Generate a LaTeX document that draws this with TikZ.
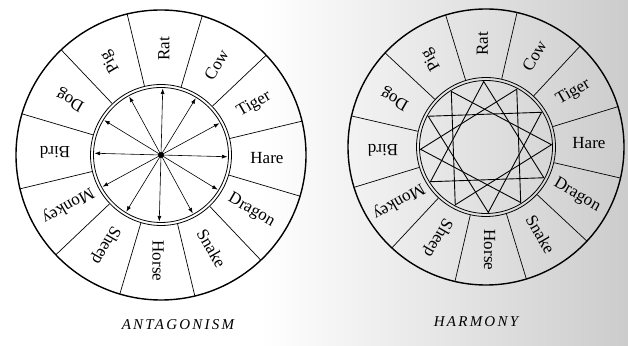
\documentclass[tikz,border=0pt]{standalone}
\usepackage{fontspec}
\setmainfont{Liberation Serif}
\usetikzlibrary{arrows.meta}

\begin{document}
\begin{tikzpicture}[x=1pt, y=1pt,
    rim/.style={line width=1.4pt},
    ring/.style={line width=0.8pt},
    spoke/.style={line width=0.7pt},
    arr/.style={{Latex[length=5.5pt,width=4pt]}-{Latex[length=5.5pt,width=4pt]}, line width=0.6pt},
    star/.style={line width=0.9pt, line join=miter},
    lbl/.style={font=\fontsize{17}{17}\selectfont, inner sep=0pt},
    ttl/.style={font=\fontsize{15}{15}\selectfont\itshape\addfontfeatures{LetterSpace=15}, inner sep=0pt}
]
\useasboundingbox (0,0) rectangle (628,345);
% scanned paper tone on the right
\shade[left color=white, right color=black!20] (260,0) rectangle (628,345);

% left wheel
\begin{scope}[shift={(161,190)}, rotate=-1.5]
\coordinate (AC) at (0,0);
\draw[rim] (AC) circle (145);
\draw[ring] (AC) circle (70.5);
\draw[ring] (AC) circle (67.5);
\foreach \k in {0,...,11}
  \draw[spoke] (15+30*\k:71) -- (15+30*\k:145);
\foreach \name [count=\i from 0] in {Rat,Cow,Tiger,Hare,Dragon,Snake,Horse,Sheep,Monkey,Bird,Dog,Pig}
  \node[lbl, rotate=90-30*\i] (a\name) at (90-30*\i:106) {\name};
\foreach \i in {0,...,11}
  \coordinate (a\i) at (90-30*\i:66.5);
\foreach \i [evaluate=\i as \j using int(\i+6)] in {0,...,5}
  \draw[arr] (a\i) -- (a\j);
\fill (AC) circle (3);
\end{scope}

% right wheel
\begin{scope}[shift={(486,198)}, rotate=2]
\coordinate (BC) at (0,0);
\draw[rim] (BC) circle (138);
\draw[ring] (BC) circle (69.5);
\draw[ring] (BC) circle (66.5);
\foreach \k in {0,...,11}
  \draw[spoke] (15+30*\k:70) -- (15+30*\k:138);
\foreach \name [count=\i from 0] in {Rat,Cow,Tiger,Hare,Dragon,Snake,Horse,Sheep,Monkey,Bird,Dog,Pig}
  \node[lbl, rotate=90-30*\i] (b\name) at (90-30*\i:103) {\name};
\foreach \i in {0,...,11}
  \coordinate (b\i) at (90-30*\i:65.5);
\foreach \i [evaluate=\i as \j using int(\i+4), evaluate=\i as \m using int(\i+8)] in {0,...,3}
  \draw[star] (b\i) -- (b\j) -- (b\m) -- cycle;
\end{scope}

\node[ttl] (antag) at (178,20) {ANTAGONISM};
\node[ttl] (harm) at (476,23) {HARMONY};
\end{tikzpicture}
\end{document}
